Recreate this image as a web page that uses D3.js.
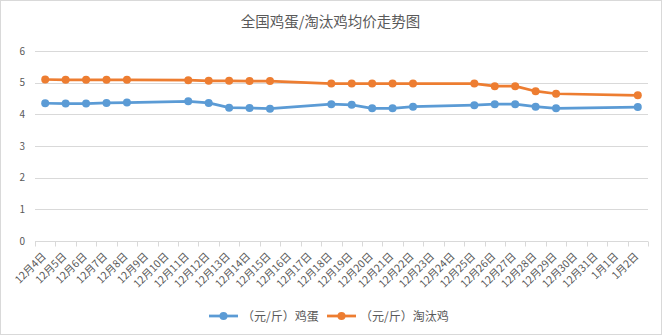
<!DOCTYPE html>
<html><head><meta charset="utf-8">
<script src="https://cdn.jsdelivr.net/npm/d3@7"></script>
<style>body{margin:0;background:#fff;} svg{display:block;font-family:"Microsoft YaHei","Noto Sans CJK SC",sans-serif;}</style>
</head><body>
<svg id="c" width="663" height="336"></svg>
<script>
const categories = ["12月4日","12月5日","12月6日","12月7日","12月8日","12月9日","12月10日","12月11日","12月12日","12月13日","12月14日","12月15日","12月16日","12月17日","12月18日","12月19日","12月20日","12月21日","12月22日","12月23日","12月24日","12月25日","12月26日","12月27日","12月28日","12月29日","12月30日","12月31日","1月1日","1月2日"];
const eggValues = [4.35,4.34,4.34,4.36,4.37,null,null,4.41,4.36,4.21,4.20,4.18,null,null,4.32,4.30,4.19,4.19,4.24,null,null,4.29,4.32,4.32,4.24,4.19,null,null,null,4.23];
const henValues = [5.10,5.09,5.09,5.09,5.09,null,null,5.08,5.06,5.06,5.05,5.05,null,null,4.97,4.97,4.97,4.97,4.97,null,null,4.97,4.89,4.89,4.73,4.65,null,null,null,4.60];
const yTicks = [0,1,2,3,4,5,6];
const seriesNames = ["（元/斤）鸡蛋","（元/斤）淘汰鸡"];
const title = "全国鸡蛋/淘汰鸡均价走势图";

(function(){
const svg = d3.select("#c");
const W = 663, H = 336;
const colors = ["#5B9BD5","#ED7D31"];
svg.append("rect").attr("x",0.5).attr("y",0.5).attr("width",W-2).attr("height",H-2)
  .attr("fill","#fff").attr("stroke","#d9d9d9");

const pl = 35, pr = 648, pt = 51, pb = 241;
const x = d3.scaleBand().domain(categories).range([pl,pr]).paddingInner(0).paddingOuter(0);
const y = d3.scaleLinear().domain([0,6]).range([pb,pt]);

svg.append("text").attr("x",W/2-1).attr("y",27).attr("text-anchor","middle")
  .attr("font-size",14.5).attr("fill","#595959").text(title);

svg.append("g").selectAll("line").data(yTicks.filter(d=>d>0)).join("line")
  .attr("x1",pl).attr("x2",pr).attr("y1",d=>Math.round(y(d))+0.5).attr("y2",d=>Math.round(y(d))+0.5)
  .attr("stroke","#d9d9d9").attr("stroke-width",1);

svg.append("g").selectAll("text").data(yTicks).join("text")
  .attr("x",25).attr("y",d=>y(d)+3.5).attr("text-anchor","end")
  .attr("font-size",10).attr("fill","#595959").text(d=>d);

const gx = svg.append("g").attr("transform",`translate(0,${pb+0.5})`);
gx.append("line").attr("x1",pl).attr("x2",pr).attr("y1",0).attr("y2",0).attr("stroke","#d9d9d9");
const bounds = categories.map(c=>x(c)).concat([pr]);
gx.selectAll("line.b").data(bounds).join("line").attr("class","b")
  .attr("x1",d=>Math.round(d)+0.5).attr("x2",d=>Math.round(d)+0.5).attr("y1",0).attr("y2",5)
  .attr("stroke","#d9d9d9");

svg.append("g").selectAll("text").data(categories).join("text")
  .attr("text-anchor","end").attr("font-size",10.5).attr("fill","#595959")
  .attr("transform",d=>`translate(${x(d)+x.bandwidth()/2+1.5},${pb+16}) rotate(-45)`)
  .text(d=>d);

const cx = d => x(d) + x.bandwidth()/2;
[eggValues, henValues].forEach((vals,i)=>{
  const pts = categories.map((c,j)=>({c,v:vals[j]})).filter(p=>p.v!=null);
  const line = d3.line().x(p=>cx(p.c)).y(p=>y(p.v));
  svg.append("path").datum(pts).attr("d",line).attr("fill","none")
    .attr("stroke",colors[i]).attr("stroke-width",2.75).attr("stroke-linejoin","round");
  svg.append("g").selectAll("circle").data(pts).join("circle")
    .attr("cx",p=>cx(p.c)).attr("cy",p=>y(p.v)).attr("r",4).attr("fill",colors[i]);
});

const legY = 316;
const legX = [209, 327];
seriesNames.forEach((n,i)=>{
  const g = svg.append("g");
  g.append("line").attr("x1",legX[i]).attr("x2",legX[i]+29).attr("y1",legY).attr("y2",legY)
    .attr("stroke",colors[i]).attr("stroke-width",2.75);
  g.append("circle").attr("cx",legX[i]+14.5).attr("cy",legY).attr("r",4).attr("fill",colors[i]);
  g.append("text").attr("x",legX[i]+33).attr("y",legY+4.5).attr("font-size",12).attr("fill","#595959").text(n);
});
})();
</script>
</body></html>
